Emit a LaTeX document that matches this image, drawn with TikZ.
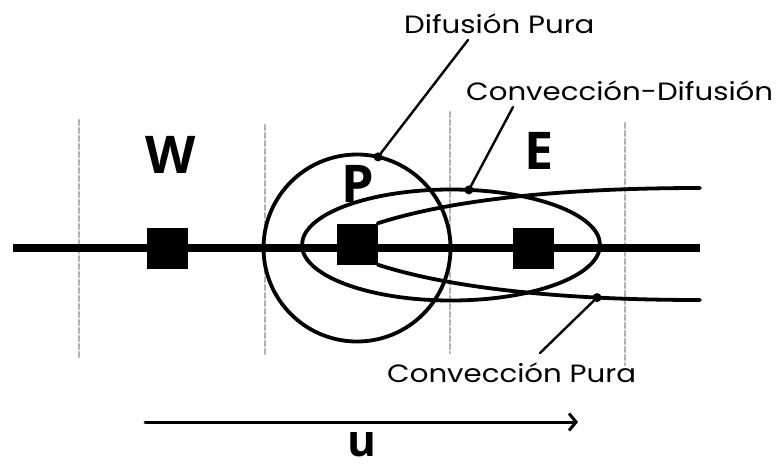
\documentclass[tikz,border=0pt]{standalone}
\usepackage{fontspec}
\setmainfont{Poppins}[FakeStretch=1.17]
\newfontfamily\letterfont{Open Sans}
\usetikzlibrary{arrows.meta, shapes.geometric}

\begin{document}
\begin{tikzpicture}[x=1pt, y=-1pt, line cap=round,
		celda/.style={fill=black, minimum size=41pt, inner sep=0pt},
		letra/.style={font=\letterfont\bfseries\fontsize{52}{52}\selectfont, inner sep=0pt, anchor=base},
		etiqueta/.style={font=\fontsize{25}{25}\selectfont, inner sep=0pt, anchor=base west},
		curva/.style={line width=3.8pt},
		guia/.style={line width=2.4pt},
		punto/.style={circle, fill=black, inner sep=0pt, minimum size=9pt},
		frontera/.style={gray!60, line width=2.2pt, dash pattern=on 5pt off 3pt}]
	\useasboundingbox (0,0) rectangle (776,466);
	
	% 1. Fronteras de los volumenes de control
	\foreach \xf/\ya/\yb in {79/120/358, 265/125/355, 450/112/353, 625/123/365}
		\draw[frontera] (\xf,\ya) -- (\xf,\yb);
	
	% 2. Eje y nodos W, P, E
	\coordinate (ini) at (13,248);
	\coordinate (fin) at (700,248);
	\draw[line width=8pt, line cap=butt] (ini) -- (fin);
	\node[celda] (W) at (167,248) {};
	\node[celda] (P) at (357,244) {};
	\node[celda] (E) at (533,248) {};
	\node[letra] (lW) at (171,173) {W};
	\node[letra] (lP) at (358,202) {P};
	\node[letra] (lE) at (539,169) {E};
	
	% 3. Difusion pura y conveccion-difusion
	\node[draw, circle, curva, minimum size=187pt, outer sep=0pt] (difusion) at (357,248) {};
	\node[draw, ellipse, curva, minimum width=298pt, minimum height=111pt, outer sep=0pt] (mixta) at (451,245) {};
	
	% 4. Conveccion pura
	\draw[curva] (P.north east) .. controls (450,200) and (560,188) .. (700,188);
	\draw[curva] (P.south east) .. controls (450,288) and (560,300) .. (700,300)
		node[pos=0.74, punto] (pPura) {};
	
	% 5. Etiquetas con lineas guia
	\node[etiqueta] (tDif) at (404,33) {Difusión Pura};
	\node[etiqueta] (tMix) at (466,100) {Convección-Difusión};
	\node[etiqueta] (tPura) at (387,382) {Convección Pura};
	\node[punto] (pDif) at (difusion.77) {};
	\node[punto] (pMix) at (mixta.72) {};
	\coordinate (gDif) at (468,40);
	\coordinate (gMix) at (513,107);
	\coordinate (gPura) at (540,353);
	\draw[guia] (pDif.center) -- (gDif);
	\draw[guia] (pMix.center) -- (gMix);
	\draw[guia] (pPura.center) -- (gPura);
	
	% 6. Velocidad
	\coordinate (u0) at (145,422);
	\coordinate (u1) at (578,422);
	\draw[line width=3pt, -{Straight Barb[length=7pt, width=17pt]}] (u0) -- (u1);
	\node[letra, font=\letterfont\bfseries\fontsize{44}{44}\selectfont] (lu) at (362,456) {u};
\end{tikzpicture}
\end{document}
